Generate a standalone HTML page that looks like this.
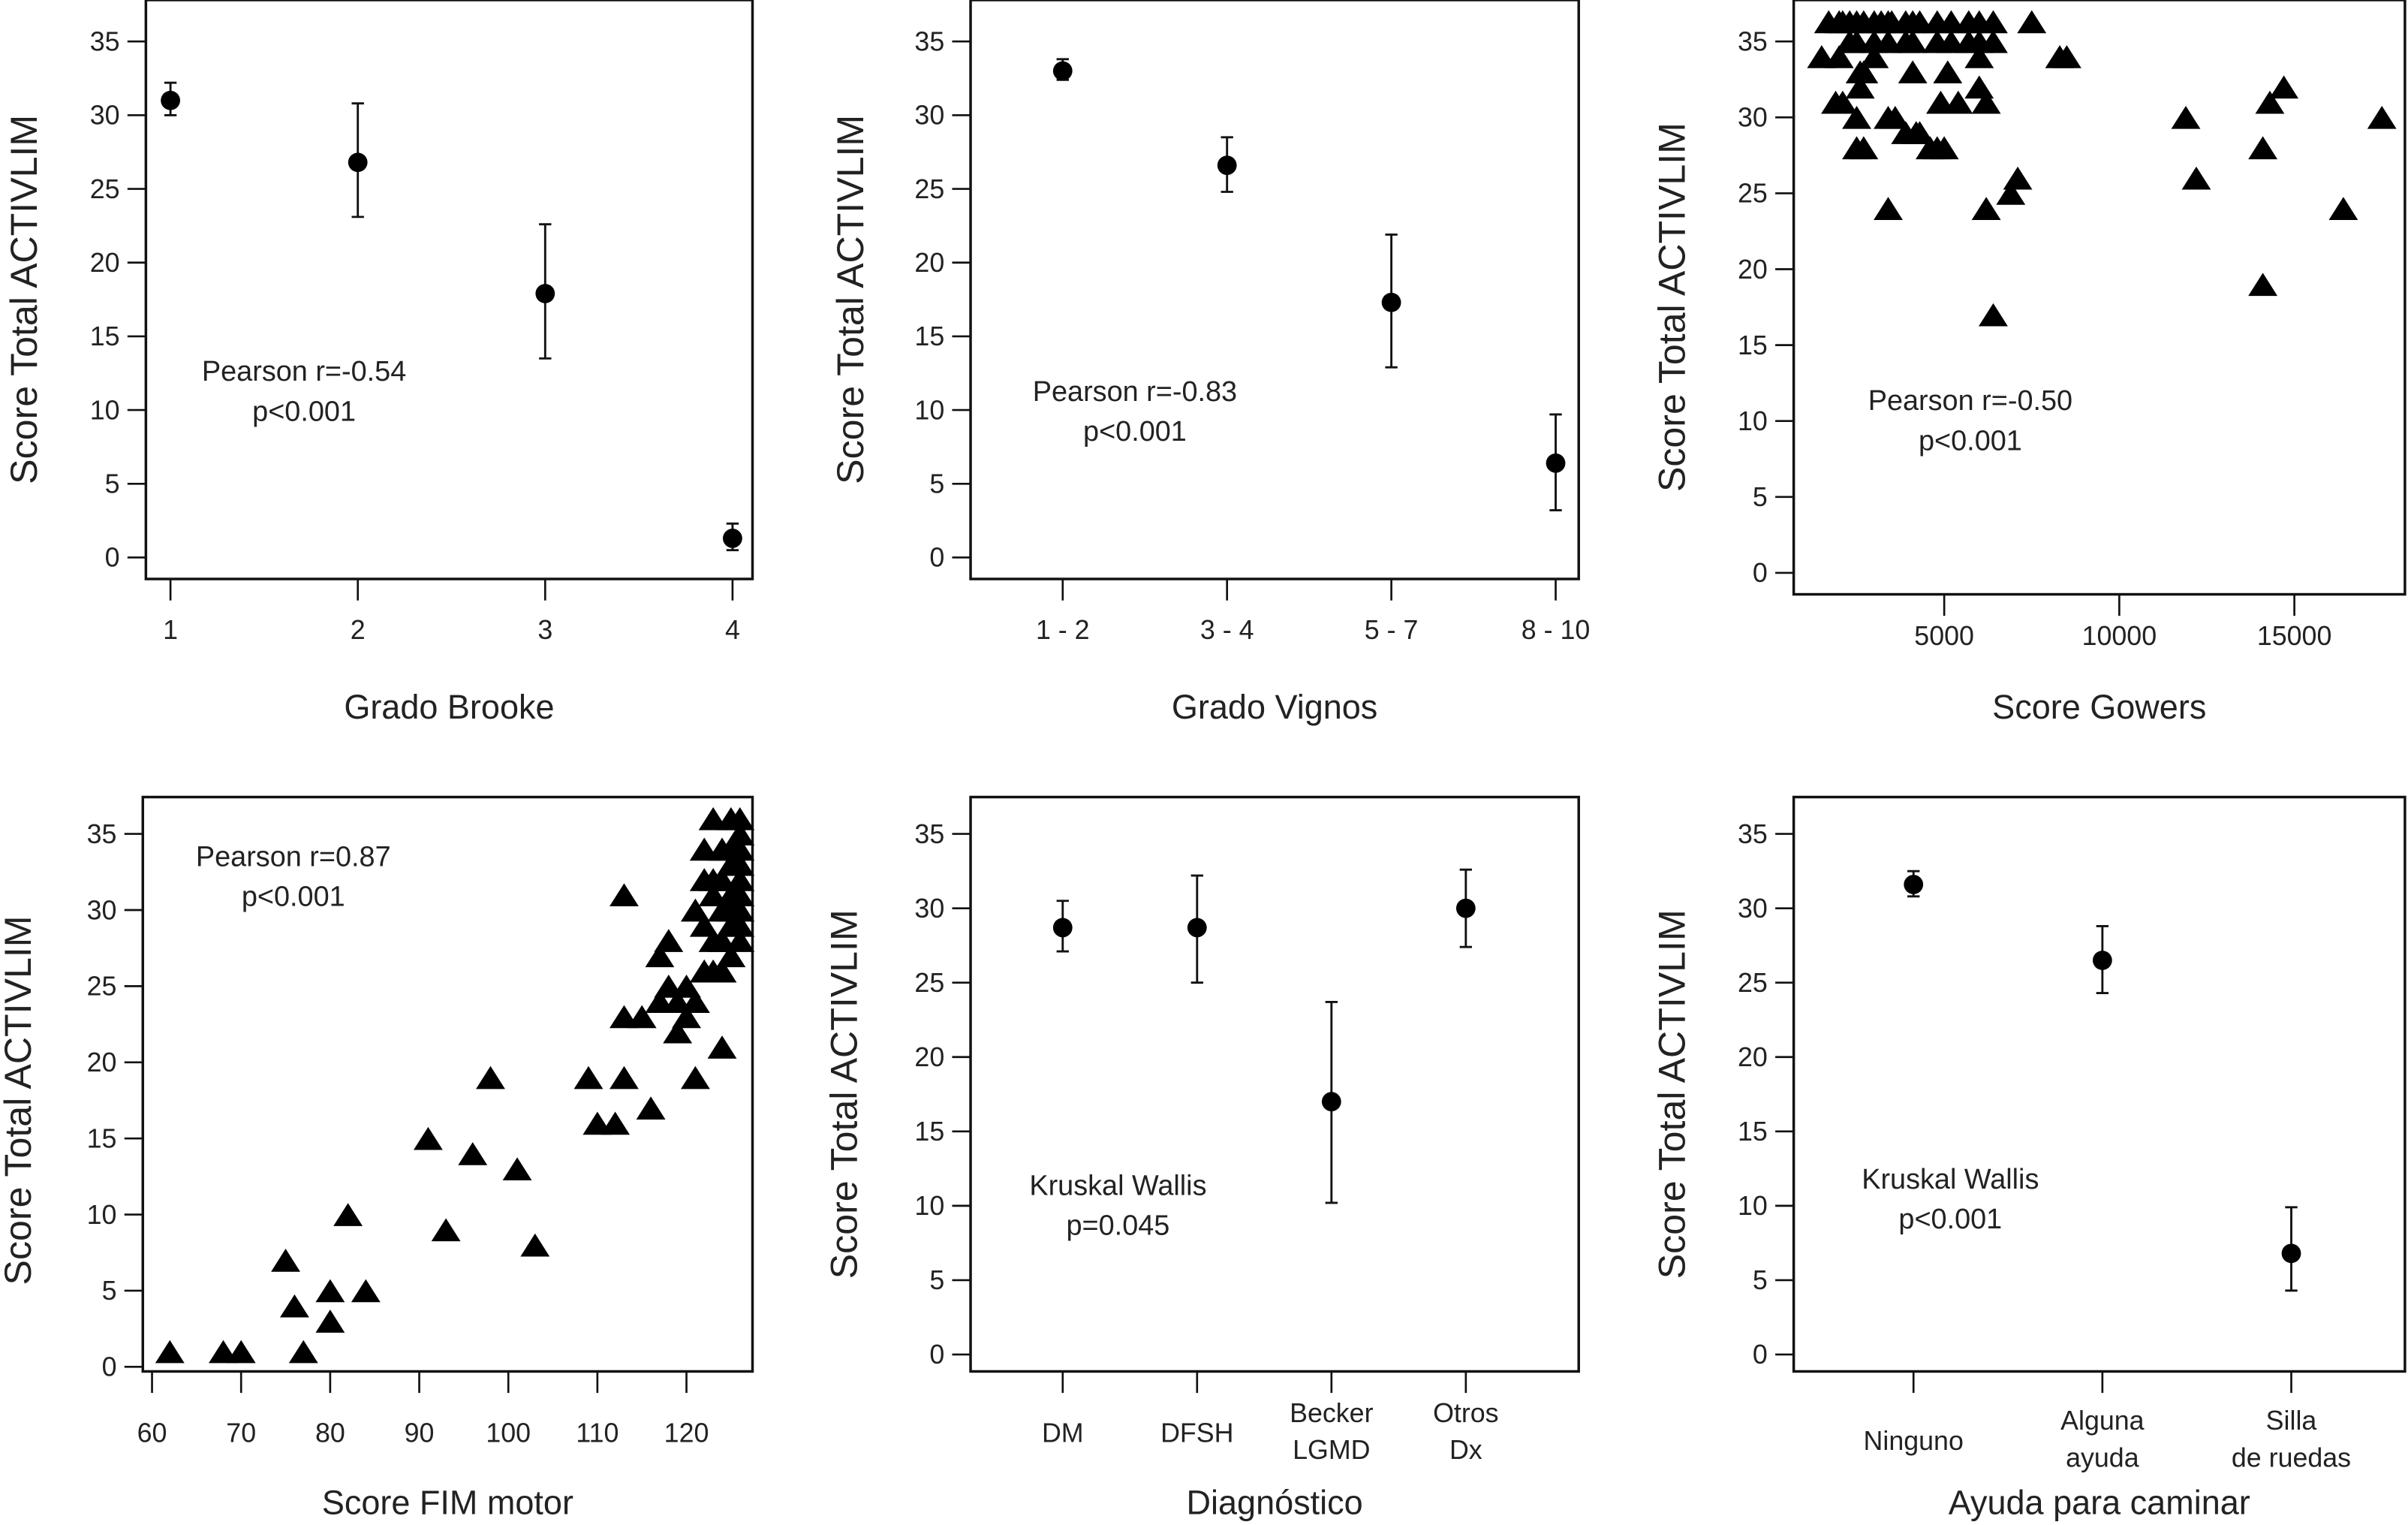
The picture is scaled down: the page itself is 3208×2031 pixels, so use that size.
<!DOCTYPE html>
<html><head><meta charset="utf-8">
<style>
html,body{margin:0;padding:0;background:#fff;}
svg{display:block;}
text{font-family:"Liberation Sans",Arial,sans-serif;fill:#222;}
</style></head>
<body>
<svg id="fig" width="3208" height="2031" viewBox="0 0 1568 993" preserveAspectRatio="none" xmlns="http://www.w3.org/2000/svg"></svg>
<script>
// ---- data ----
const yTicks = [0,5,10,15,20,25,30,35];
// Panel 1: Grado Brooke
const brookeX = [1,2,3,4];
const brookeMean = [31,26.8,17.9,1.3];
const brookeLo = [30,23.1,13.5,0.5];
const brookeHi = [32.2,30.8,22.6,2.3];
// Panel 2: Grado Vignos
const vignosCats = ["1 - 2","3 - 4","5 - 7","8 - 10"];
const vignosMean = [33,26.6,17.3,6.4];
const vignosLo = [32.4,24.8,12.9,3.2];
const vignosHi = [33.8,28.5,21.9,9.7];
// Panel 3: Score Gowers
const gowersTicks = [5000,10000,15000];
const gowersX = [1700,2000,2100,2300,2500,2700,3000,3200,3400,3500,3900,4100,4300,4800,5200,5700,6000,6400,7500,
  2300,2500,3000,3400,3900,4100,4800,5200,5700,6000,6400,1500,2000,2600,2700,4100,4200,6200,6900,7100,8300,11900,12200,14100,14300,14700,16400,17500,14100,1900,3600,4800,6000,8500];
const gowersY = [36.3,36.3,36.3,36.3,36.3,36.3,36.3,36.3,36.3,36.3,36.3,36.3,36.3,36.3,36.3,36.3,36.3,36.3,36.3,
  35,35,35,35,35,35,35,35,35,35,35,34,34,33,33,33,29,24,25,26,34,30,26,28,31,32,24,30,19,31,30,28,32,34];
const gowersX2 = [2100,2500,3400,3900,4300,4600,5000,2500,2700,4900,6200,3400,6400,2600,3000,5100,5400,6000];
const gowersY2 = [31,30,30,29,29,28,28,28,28,31,31,24,17,32,34,33,31,34];
// Panel 4: Score FIM motor
const fimTicks = [60,70,80,90,100,110,120];
const fimX = [62,68,70,77,75,76,80,80,82,84,91,93,96,98,101,103,109,110,112,113,113,113,115,116,117,117,118,118,119,119,120,120,121,121,121,122,122,122,122,123,123,123,123,124,124,124,124,125,125,125,125,125,125,126,126,126,126,126,126,126,126,126,124,124,125,123];
const fimY = [1,1,1,1,7,4,3,5,10,5,15,9,14,19,13,8,19,16,16,19,31,23,23,17,24,27,28,25,24,22,23,25,24,30,19,34,32,26,29,36,31,28,26,30,26,21,32,36,34,33,31,29,27,36,35,34,33,32,31,30,29,28,34,28,30,32];
// Panel 5: Diagnóstico
const diagCats = [["DM"],["DFSH"],["Becker","LGMD"],["Otros","Dx"]];
const diagMean = [28.7,28.7,17,30];
const diagLo = [27.1,25,10.2,27.4];
const diagHi = [30.5,32.2,23.7,32.6];
// Panel 6: Ayuda para caminar
const ayudaCats = [["Ninguno"],["Alguna","ayuda"],["Silla","de ruedas"]];
const ayudaMean = [31.6,26.5,6.8];
const ayudaLo = [30.8,24.3,4.3];
const ayudaHi = [32.5,28.8,9.9];

// ---- drawing ----
const NS="http://www.w3.org/2000/svg";
const svg=document.getElementById('fig');
function mk(tag,attrs,parent){const e=document.createElementNS(NS,tag);for(const k in attrs)e.setAttribute(k,attrs[k]);(parent||svg).appendChild(e);return e;}
function txt(s,x,y,size,anchor,parent){const t=mk('text',{x:x,y:y,'font-size':size,'text-anchor':anchor||'middle'},parent);t.textContent=s;return t;}

function panel(name,box,y0px,y35px,ylabX,xtitle,xtitleY){
  const g=mk('g',{});
  
  
  const ys=v=>y0px+(y35px-y0px)*v/35;
  const r=mk('rect',{x:box[0],y:box[2],width:box[1]-box[0],height:box[3]-box[2],fill:'none',stroke:'#111','stroke-width':1.7},g);
  
  
  yTicks.forEach(v=>{
    const y=ys(v);
    mk('line',{x1:box[0]-12,x2:box[0],y1:y,y2:y,stroke:'#111','stroke-width':1.3},g);
    const t=txt(String(v),box[0]-17,y+6,17.5,'end',g);
    
    
  });
  const yc=(ys(0)+ys(35))/2;
  const yt=txt('Score Total ACTIVLIM',0,0,24.5,'middle',g);
  yt.setAttribute('transform','translate('+ylabX+','+yc+') rotate(-90)');
  
  
  const xt=txt(xtitle,(box[0]+box[1])/2,xtitleY,22,'middle',g);
  
  
  return {g:g,ys:ys,box:box};
}
function xtick(p,x,labels,ly){
  mk('line',{x1:x,x2:x,y1:p.box[3],y2:p.box[3]+14,stroke:'#111','stroke-width':1.3},p.g);
  labels.forEach((s,i)=>{
    const t=txt(s,x,ly+i*24,17.5,'middle',p.g);
    
    
  });
}
function errbar(p,x,m,lo,hi){
  const l=mk('line',{x1:x,x2:x,y1:p.ys(lo),y2:p.ys(hi),stroke:'#111','stroke-width':1.4},p.g);
  
  
  [lo,hi].forEach(v=>mk('line',{x1:x-4,x2:x+4,y1:p.ys(v),y2:p.ys(v),stroke:'#111','stroke-width':1.4},p.g));
  const c=mk('circle',{cx:x,cy:p.ys(m),r:6.3,fill:'#000'},p.g);
  
  
}
function tri(p,x,y){
  const w=9.5,h=15;
  const t=mk('polygon',{points:(x-w)+','+(y+h/2)+' '+(x+w)+','+(y+h/2)+' '+x+','+(y-h/2),fill:'#000'},p.g);
  
  
}
function annot(p,l1,l2,x,y){
  const a=txt(l1,x,y,18.5,'middle',p.g);
  
  
  const b=txt(l2,x,y+26,18.5,'middle',p.g);
  
  
}

// Panel 1
const p1=panel('panel-brooke',[95,490,0,377],363,27,24,'Grado Brooke',468);
const bx=v=>111+(v-1)*122;
brookeX.forEach((v,i)=>{xtick(p1,bx(v),[String(v)],416);});
brookeX.forEach((v,i)=>errbar(p1,bx(v),brookeMean[i],brookeLo[i],brookeHi[i]));
annot(p1,'Pearson r=-0.54','p<0.001',198,248);

// Panel 2
const p2=panel('panel-vignos',[632,1028,0,377],363,27,562,'Grado Vignos',468);
const vx=i=>692+i*107;
vignosCats.forEach((c,i)=>xtick(p2,vx(i),[c],416));
vignosCats.forEach((c,i)=>errbar(p2,vx(i),vignosMean[i],vignosLo[i],vignosHi[i]));
annot(p2,'Pearson r=-0.83','p<0.001',739,261);

// Panel 3
const p3=panel('panel-gowers',[1168,1566,0,387],373,27,1097,'Score Gowers',468);
const gx=v=>1266+(v-5000)*114/5000;
gowersTicks.forEach(v=>xtick(p3,gx(v),[String(v)],420));
gowersX.forEach((v,i)=>tri(p3,gx(v),p3.ys(gowersY[i])));
gowersX2.forEach((v,i)=>tri(p3,gx(v),p3.ys(gowersY2[i])));
annot(p3,'Pearson r=-0.50','p<0.001',1283,267);

// Panel 4
const p4=panel('panel-fim',[93,490,519,893],890,543,20,'Score FIM motor',986);
const fx=v=>99+(v-60)*5.8;
fimTicks.forEach(v=>xtick(p4,fx(v),[String(v)],939));
fimX.forEach((v,i)=>tri(p4,fx(v),p4.ys(fimY[i])));
annot(p4,'Pearson r=0.87','p<0.001',191,564);

// Panel 5
const p5=panel('panel-diagnostico',[632,1028,519,893],882,543,558,'Diagnóstico',986);
const dx=i=>692+i*87.5;
diagCats.forEach((c,i)=>xtick(p5,dx(i),c,c.length>1?926:939));
diagCats.forEach((c,i)=>errbar(p5,dx(i),diagMean[i],diagLo[i],diagHi[i]));
annot(p5,'Kruskal Wallis','p=0.045',728,778);

// Panel 6
const p6=panel('panel-ayuda',[1168,1566,519,893],882,543,1097,'Ayuda para caminar',986);
const ax=i=>1246+i*123;
ayudaCats.forEach((c,i)=>xtick(p6,ax(i),c,c.length>1?931:944));
ayudaCats.forEach((c,i)=>errbar(p6,ax(i),ayudaMean[i],ayudaLo[i],ayudaHi[i]));
annot(p6,'Kruskal Wallis','p<0.001',1270,774);
</script>
</body></html>
